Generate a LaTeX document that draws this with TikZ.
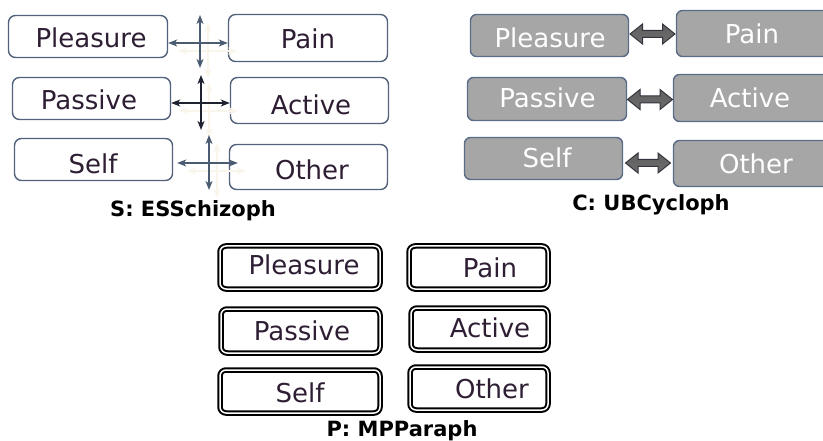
\documentclass[tikz,border=0pt]{standalone}
\usepackage{fontspec}
\setmainfont{DejaVu Sans}
\usetikzlibrary{arrows.meta,calc}

\definecolor{slate}{HTML}{52627C}
\definecolor{crossblue}{HTML}{4B5B72}
\definecolor{crossdark}{HTML}{1E2230}
\definecolor{ghost}{HTML}{FAF5EA}
\definecolor{ink}{HTML}{2E1E33}
\definecolor{cfill}{HTML}{A6A6A6}
\definecolor{cedge}{HTML}{5B6C88}
\definecolor{arrowedge}{HTML}{34343F}

\tikzset{
  sbox/.style={draw=slate, line width=1.4pt, rounded corners=7pt, fill=white, inner sep=0pt},
  cbox/.style={draw=cedge, line width=1.4pt, rounded corners=6pt, fill=cfill, inner sep=0pt},
  pbox/.style={draw=black, line width=2pt, double=white, double distance=1.5pt,
               rounded corners=6pt, inner sep=0pt},
  word/.style={anchor=base, inner sep=0pt, text=ink, font=\fontsize{26}{30}\selectfont},
  cword/.style={word, text=white},
  caption/.style={anchor=base, inner sep=0pt, font=\bfseries\fontsize{21}{25}\selectfont},
  cross/.style={line width=1.3pt, draw=crossblue,
                {Stealth[length=9pt,width=7pt,inset=2.5pt]}-{Stealth[length=9pt,width=7pt,inset=2.5pt]}},
  crossghost/.style={cross, draw=ghost},
  twoheads/.pic={
    \draw[line width=1pt, draw=arrowedge, top color=black!62, middle color=black!18, bottom color=black!58]
      (-22.5,0) -- (-10,-10) -- (-10,-3.5) -- (10,-3.5) -- (10,-10) -- (22.5,0)
      -- (10,10) -- (10,3.5) -- (-10,3.5) -- (-10,10) -- cycle;
  }
}

\begin{document}
\begin{tikzpicture}[x=1pt, y=-1pt]
\useasboundingbox (0,0) rectangle (823,441);
\clip (0,0) rectangle (823,441);

% ---------- S: ESSchizoph ----------
\node[sbox, minimum width=159pt, minimum height=42pt] (s1) at (88,36.5) {};
\node[sbox, minimum width=159pt, minimum height=47pt] (s2) at (308,38) {};
\node[sbox, minimum width=158pt, minimum height=42pt] (s3) at (91.5,98.5) {};
\node[sbox, minimum width=158pt, minimum height=46pt] (s4) at (309.5,100.5) {};
\node[sbox, minimum width=158pt, minimum height=42pt] (s5) at (93.5,159.5) {};
\node[sbox, minimum width=158pt, minimum height=45pt] (s6) at (308.5,167) {};

\node[word] (s1t) at (91,48) {Pleasure};
\node[word] (s2t) at (308,49) {Pain};
\node[word] (s3t) at (89,110) {Passive};
\node[word] (s4t) at (311,115) {Active};
\node[word] (s5t) at (93,174) {Self};
\node[word] (s6t) at (312,180) {Other};

% centres of the three crosses
\coordinate (x1) at (200,43);
\coordinate (x2) at (201,103);
\coordinate (x3) at (209,163);

% faint shadows behind the crosses
\foreach \c in {x1,x2,x3}{
  \draw[crossghost] ($(\c)+(-22,8)$) -- ($(\c)+(37,8)$);
  \draw[crossghost] ($(\c)+(8,-20)$) -- ($(\c)+(8,35)$);
}

\coordinate (x1t) at (200,15);  \coordinate (x1b) at (200,68);
\coordinate (x2t) at (201,75);  \coordinate (x2b) at (201,130);
\coordinate (x3t) at (209,135); \coordinate (x3b) at (209,190);

\draw[cross] (s1.east |- x1) -- (s2.west |- x1);
\draw[cross] (x1t) -- (x1b);
\draw[cross, draw=crossdark] (s3.east |- x2) -- (s4.west |- x2);
\draw[cross, draw=crossdark] (x2t) -- (x2b);
\draw[cross] ($(s5.east |- x3)+(4,0)$) -- ($(s6.west |- x3)+(9,0)$);
\draw[cross] (x3t) -- (x3b);

\node[caption] (scap) at (193,217) {S: ESSchizoph};

% ---------- C: UBCycloph ----------
\node[cbox, minimum width=158pt, minimum height=42pt] (c1) at (549.5,35.5) {};
\node[cbox, minimum width=158pt, minimum height=46pt] (c2) at (755.5,33.5) {};
\node[cbox, minimum width=159pt, minimum height=43pt] (c3) at (547,99) {};
\node[cbox, minimum width=161pt, minimum height=47pt] (c4) at (754,98) {};
\node[cbox, minimum width=158pt, minimum height=42pt] (c5) at (543.5,158.5) {};
\node[cbox, minimum width=161pt, minimum height=46pt] (c6) at (754,163.5) {};

\node[cword] (c1t) at (550,48) {Pleasure};
\node[cword] (c2t) at (752,44) {Pain};
\node[cword] (c3t) at (547.5,108) {Passive};
\node[cword] (c4t) at (750,108) {Active};
\node[cword] (c5t) at (547,168) {Self};
\node[cword] (c6t) at (756,174) {Other};

\pic at ($(c1.east)!0.5!(c2.west)+(0,-0.5)$) {twoheads};
\pic at ($(c3.east)!0.5!(c4.west)+(0,1)$) {twoheads};
\pic at ($(c5.east)!0.5!(c6.west)+(0,2)$) {twoheads};

\node[caption] (ccap) at (651,211) {C: UBCycloph};

% ---------- P: MPParaph ----------
\node[pbox, minimum width=160pt, minimum height=43pt] (p1) at (300,267.5) {};
\node[pbox, minimum width=139pt, minimum height=43pt] (p2) at (478.5,267.5) {};
\node[pbox, minimum width=159pt, minimum height=44pt] (p3) at (300.5,331) {};
\node[pbox, minimum width=137pt, minimum height=42pt] (p4) at (479.5,329) {};
\node[pbox, minimum width=160pt, minimum height=43pt] (p5) at (300,391.5) {};
\node[pbox, minimum width=138pt, minimum height=43pt] (p6) at (479,388.5) {};

\node[word] (p1t) at (304,275) {Pleasure};
\node[word] (p2t) at (490,277) {Pain};
\node[word] (p3t) at (302,340) {Passive};
\node[word] (p4t) at (490,337) {Active};
\node[word] (p5t) at (300,402.5) {Self};
\node[word] (p6t) at (492,398) {Other};

\node[caption] (pcap) at (402,436) {P: MPParaph};
\end{tikzpicture}
\end{document}
